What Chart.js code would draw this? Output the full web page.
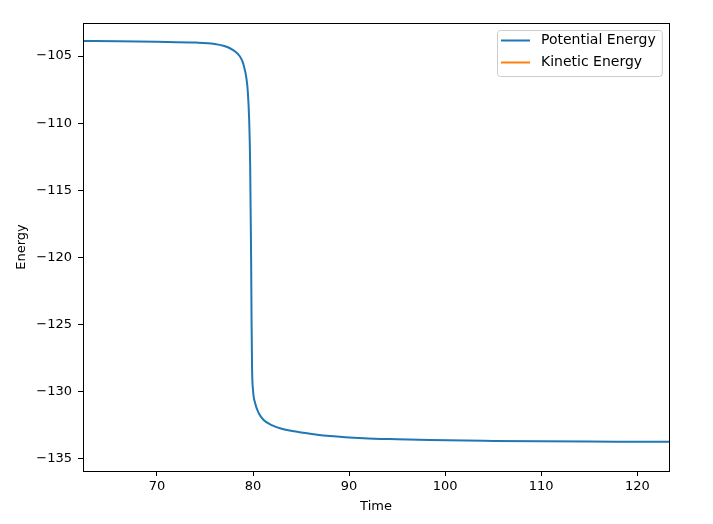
<!DOCTYPE html>
<html>
<head>
<meta charset="utf-8">
<script src="https://cdn.jsdelivr.net/npm/chart.js@4"></script>
<style>
  html, body { margin: 0; padding: 0; background: #fff; }
  #wrap { width: 713px; height: 524px; }
</style>
</head>
<body>
<div id="wrap"><canvas id="energy-chart"></canvas></div>
<script>
// Values
const timeValues = [62.3, 66, 70, 74, 76, 77, 77.6, 78.2, 78.6, 78.9, 79.1, 79.3, 79.45, 79.6, 79.7, 79.8,
  79.85, 79.9, 80.0, 80.2, 80.6, 81.1, 82, 82.8, 84.6, 86.5, 88, 91.5, 95, 98.4, 105, 110, 115, 120, 123.3];
const potentialEnergy = [-103.88, -103.9, -103.94, -104.0, -104.1, -104.25, -104.42, -104.7, -105.0, -105.4,
  -105.9, -106.6, -107.6, -109.8, -113, -120, -125, -128.3, -129.9, -130.8, -131.6, -132.1, -132.5, -132.72,
  -132.98, -133.18, -133.3, -133.46, -133.54, -133.6, -133.66, -133.69, -133.71, -133.72, -133.73];
const kineticEnergy = []; // off the visible range, only shows in legend
const xTicks = [70, 80, 90, 100, 110, 120];
const yTicks = [-105, -110, -115, -120, -125, -130, -135];

const FONT = 'DejaVu Sans';
const ctxEl = document.getElementById('energy-chart');

// Frame on all four sides, like matplotlib
const framePlugin = {
  id: 'frame',
  afterDraw(chart) {
    const { ctx, chartArea: a } = chart;
    ctx.save();
    ctx.strokeStyle = '#000';
    ctx.lineWidth = 1;
    ctx.strokeRect(Math.round(a.left) + 0.5, Math.round(a.top) + 0.5,
      Math.round(a.right - a.left), Math.round(a.bottom - a.top));
    ctx.restore();
  }
};

// Legend box in the upper right corner of the plot
const boxLegend = {
  id: 'boxLegend',
  afterDraw(chart) {
    const { ctx, chartArea: a } = chart;
    const sets = chart.data.datasets;
    ctx.save();
    ctx.font = '14px ' + FONT;
    const textW = Math.max(...sets.map(d => ctx.measureText(d.label).width));
    const w = 44 + textW + 6;
    const h = 46;
    const x = Math.round(a.right - 7 - w);
    const y = Math.round(a.top + 7);
    ctx.fillStyle = 'rgba(255,255,255,0.8)';
    ctx.strokeStyle = '#ccc';
    ctx.lineWidth = 1;
    ctx.beginPath();
    ctx.roundRect(x + 0.5, y + 0.5, w, h, 3);
    ctx.fill();
    ctx.stroke();
    sets.forEach((d, i) => {
      const cy = y + 10.5 + i * 22;
      ctx.strokeStyle = d.borderColor;
      ctx.lineWidth = 2;
      ctx.beginPath();
      ctx.moveTo(x + 4, cy);
      ctx.lineTo(x + 33, cy);
      ctx.stroke();
      ctx.fillStyle = '#000';
      ctx.textBaseline = 'middle';
      ctx.fillText(d.label, x + 44, cy);
    });
    ctx.restore();
  }
};

const minus = v => String(v).replace('-', '\u2212');

new Chart(ctxEl, {
  type: 'line',
  data: {
    datasets: [{
      label: 'Potential Energy',
      data: timeValues.map((t, i) => ({ x: t, y: potentialEnergy[i] })),
      borderColor: '#1f77b4',
      borderWidth: 2,
      pointRadius: 0,
      cubicInterpolationMode: 'monotone'
    }, {
      label: 'Kinetic Energy',
      data: kineticEnergy,
      borderColor: '#ff7f0e',
      borderWidth: 2,
      pointRadius: 0
    }]
  },
  options: {
    responsive: true,
    maintainAspectRatio: false,
    animation: false,
    layout: { padding: { left: 0, right: 44, top: 23, bottom: 0 } },
    plugins: {
      legend: { display: false },
      tooltip: { enabled: false }
    },
    scales: {
      x: {
        type: 'linear',
        min: 62.3,
        max: 123.3,
        afterBuildTicks: s => { s.ticks = xTicks.map(v => ({ value: v })); },
        afterFit: s => { s.height = 53; },
        grid: { drawOnChartArea: false, drawTicks: true, tickLength: 5, color: '#000' },
        border: { display: true, color: '#000' },
        ticks: { color: '#000', font: { family: FONT, size: 13 }, padding: 3, maxRotation: 0 },
        title: { display: true, text: 'Time', color: '#000', font: { family: FONT, size: 13 }, padding: { top: 0, bottom: 10 } }
      },
      y: {
        type: 'linear',
        min: -135.9,
        max: -102.54,
        afterBuildTicks: s => { s.ticks = yTicks.map(v => ({ value: v })); },
        afterFit: s => { s.width = 83; },
        grid: { drawOnChartArea: false, drawTicks: true, tickLength: 5, color: '#000' },
        border: { display: true, color: '#000' },
        ticks: { color: '#000', font: { family: FONT, size: 13 }, padding: 6, callback: v => minus(v) },
        title: { display: true, text: 'Energy', color: '#000', font: { family: FONT, size: 13 }, padding: { top: 14, bottom: 0 } }
      }
    }
  },
  plugins: [framePlugin, boxLegend]
});
</script>
</body>
</html>
